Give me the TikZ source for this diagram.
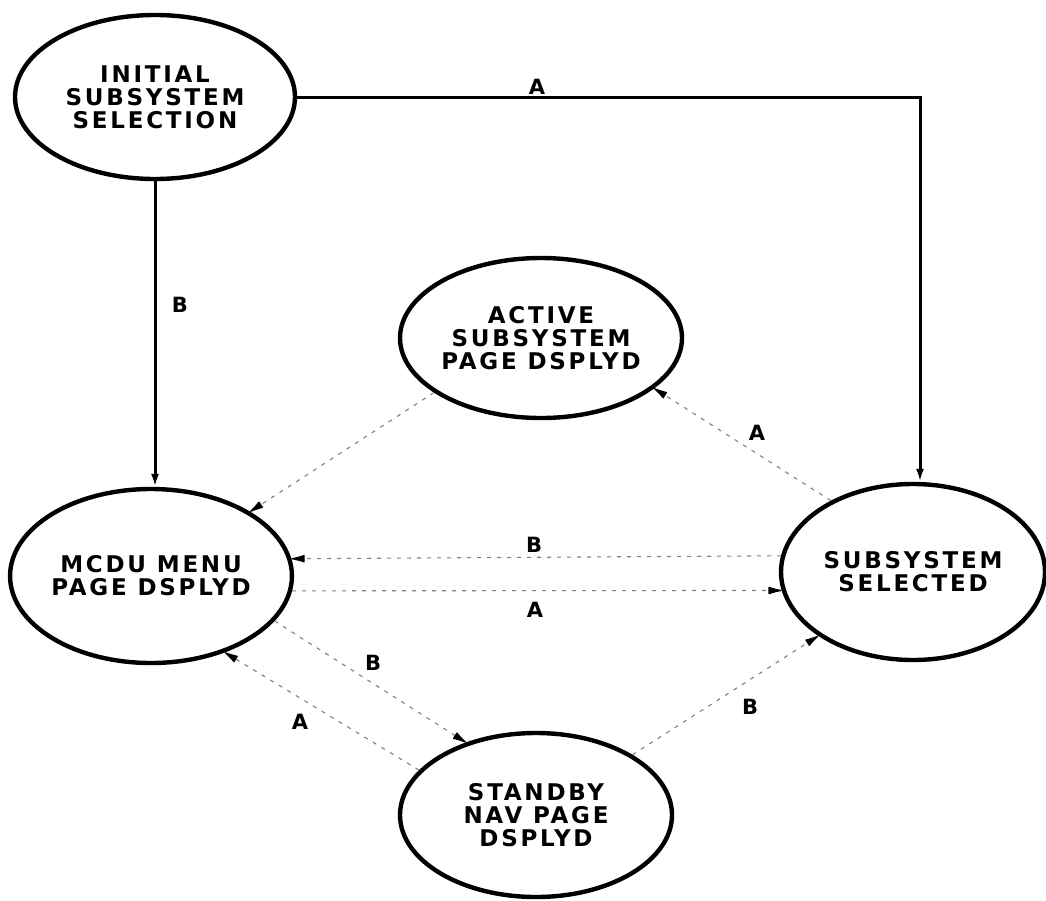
\documentclass[tikz,border=0pt]{standalone}
\usepackage{fontspec}
\usepackage{tikz}
\usetikzlibrary{arrows.meta,shapes.geometric}
\newfontfamily\panelfont{DejaVu Sans}[LetterSpace=12]
\tikzset{
  state/.style={ellipse,draw,line width=4.4pt,inner sep=0pt,align=center,
    font={\panelfont\bfseries\fontsize{23}{23}\selectfont}},
  keyline/.style={line width=3pt,-{Latex[length=13pt,width=8pt]}},
  faintline/.style={line width=1.1pt,black!50,dash pattern=on 4pt off 6pt,
    -{Latex[length=16pt,width=8pt,round,color=black]}},
  keylabel/.style={font={\panelfont\bfseries\fontsize{21}{21}\selectfont}}
}

\begin{document}
\begin{tikzpicture}[x=1pt,y=-1pt]
  \useasboundingbox (0,0) rectangle (1046,900);
  \node[state,minimum width=280pt,minimum height=164pt] (init) at (155,97) {INITIAL\\SUBSYSTEM\\SELECTION};
  \node[state,minimum width=282pt,minimum height=160pt] (active) at (541,338) {ACTIVE\\SUBSYSTEM\\PAGE DSPLYD};
  \node[state,minimum width=278pt,minimum height=174pt] (mcdu) at (151,576) {MCDU MENU\\PAGE DSPLYD};
  \node[state,minimum width=264pt,minimum height=176pt] (subsel) at (913,572) {SUBSYSTEM\\SELECTED};
  \node[state,minimum width=272pt,minimum height=164pt] (standby) at (536,815) {STANDBY\\NAV PAGE\\DSPLYD};

  \draw[keyline] (init.east) -| ([xshift=7pt]subsel.north);
  \draw[keyline] (init.south) -- (init.south |- mcdu.north);
  \draw[faintline] (active.207) -- (mcdu.33);
  \draw[faintline] (subsel.139) -- (active.336);
  \draw[faintline] (subsel.173) -- (mcdu.7);
  \draw[faintline] (mcdu.-6) -- (subsel.188);
  \draw[faintline] (standby.159) -- (mcdu.314);
  \draw[faintline] (mcdu.340) -- (standby.134);
  \draw[faintline] (standby.32) -- (subsel.214);

  \node[keylabel] (trigA1) at (537,87) {A};
  \node[keylabel] (trigB1) at (180,305) {B};
  \node[keylabel] (trigA2) at (757,433) {A};
  \node[keylabel] (trigB2) at (534,545) {B};
  \node[keylabel] (trigA3) at (535,610) {A};
  \node[keylabel] (trigB3) at (373,663) {B};
  \node[keylabel] (trigA4) at (300,722) {A};
  \node[keylabel] (trigB4) at (750,707) {B};
\end{tikzpicture}
\end{document}
